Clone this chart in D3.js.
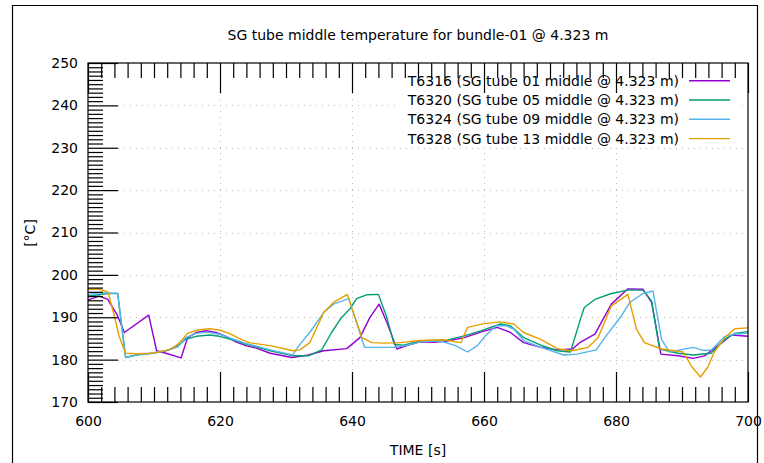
<!DOCTYPE html>
<html><head><meta charset="utf-8">
<script src="https://cdn.jsdelivr.net/npm/d3@7"></script>
<style>body{margin:0;background:#fff}svg{display:block}</style>
</head><body>
<svg id="chart" width="764" height="463"></svg>
<script>
const titleText = "SG tube middle temperature for bundle-01 @ 4.323 m";
const xAxisLabel = "TIME [s]";
const yAxisLabel = "[°C]";
const xTickValues = [600, 620, 640, 660, 680, 700];
const yTickValues = [170, 180, 190, 200, 210, 220, 230, 240, 250];
const seriesNames = [
  "T6316 (SG tube 01 middle @ 4.323 m)",
  "T6320 (SG tube 05 middle @ 4.323 m)",
  "T6324 (SG tube 09 middle @ 4.323 m)",
  "T6328 (SG tube 13 middle @ 4.323 m)"
];
const seriesColors = ["#9400d3", "#009e73", "#56b4e9", "#e69f00"];

const t6316Time = [600,601.7,603,604.5,605.5,609.2,610.4,611.8,614.1,615.1,616.4,617.9,619.4,620.9,622.4,623.9,625.5,627.6,630.9,633.4,635.7,639.2,641.2,642.7,644.1,645.3,646.8,648.3,650.3,652.5,654.4,657,659.5,662,664,666,668.6,671.1,673.4,674.5,676.8,679.3,681.8,684.1,685.4,686.8,689.4,691.7,693.4,695.5,697.5,700];
const t6316Temp = [194.1,195.0,194.2,190.3,186.4,190.5,182.1,181.5,180.4,185.2,186.4,186.8,186.4,185.5,184.2,183.3,182.7,181.5,180.5,181.1,182.1,182.6,185.2,189.9,193.1,188.7,182.5,183.3,184.2,184.1,184.4,185.2,186.5,187.6,186.4,184.0,182.9,182.3,182.5,184.0,186.0,193.1,196.7,196.6,193.5,181.3,180.9,180.3,180.9,183.3,185.8,185.5];

const t6320Time = [600,601,603,604.5,605.7,607.3,609.8,611.8,613.3,614.8,616.4,618.4,619.9,621.9,623.9,625.5,627.6,631.1,633.4,635.4,636.9,638.4,639.7,640.7,642.2,644,645.2,646.4,647.8,650.3,654.4,657,659.5,662.5,664,666,668.6,671.1,673.1,674.6,675.2,676.8,679.3,681.8,684.1,685.4,686.6,689.4,691.7,694.4,696.5,698,700];
const t6320Temp = [195.0,195.2,195.6,195.6,180.5,181.1,181.5,182.1,182.9,184.8,185.5,185.8,185.5,184.7,183.6,183.0,182.1,180.9,180.9,182.3,186.4,189.9,192.0,194.4,195.3,195.4,190.3,183.6,183.4,184.4,184.6,185.6,186.8,188.4,188.0,185.2,183.4,182.1,181.8,189.5,192.3,194.2,195.6,196.4,196.4,193.8,182.5,181.5,181.1,181.5,184.8,186.2,186.6];

const t6324Time = [600,601.7,604.5,605.7,607.3,609.4,611.8,613.6,614.8,616.4,618.1,619.9,621.9,623.9,625.5,627.6,631,632.1,633.6,635.7,637.2,639.5,640.7,641.9,643.7,646.3,648.3,650.3,653.4,655.7,657.5,659,660.2,661.8,663.3,664.5,666.1,668.6,672.1,674.1,677,678.3,680.8,682.1,684.1,685.6,686.9,688.1,691.7,693.2,694.4,696.5,698,700];
const t6324Temp = [195.4,195.8,195.6,180.5,181.1,181.5,182.1,183.0,185.2,186.2,186.5,186.0,184.9,183.8,183.2,182.3,181.1,183.6,186.4,191.1,193.1,194.4,188.7,182.9,182.9,182.9,183.4,184.2,184.4,183.3,181.8,183.3,185.6,188.0,188.0,187.2,184.4,182.9,181.1,181.3,182.3,185.2,190.3,193.5,195.6,196.2,184.8,181.8,182.9,182.2,182.2,185.5,186.0,186.3];

const t6328Time = [600,601.7,603,604,604.7,605.7,607.3,609.8,612.3,613.6,615.1,616.6,618.4,619.9,621.4,622.9,624.4,627.6,631.1,632.1,633.6,635.7,637.2,639.3,640.2,641.5,643,644.8,647.3,650.3,653.9,656.5,657.5,660,662.5,664.5,666,668.6,671.1,673.1,674.2,675.8,677.3,679.3,681.8,683.1,684.3,686.9,690.2,691.4,692.8,693.9,694.9,696.5,698,700];
const t6328Temp = [196.6,196.6,196.0,190.3,185.6,181.5,181.4,181.5,182.3,183.6,186.2,187.0,187.3,187.0,186.2,185.0,184.0,183.3,182.1,182.3,184.0,191.1,193.5,195.4,191.1,185.2,184.0,183.9,184.0,184.5,184.7,184.0,187.6,188.5,188.9,188.4,186.4,184.8,182.6,182.1,182.4,182.9,185.2,192.7,195.4,187.2,184.0,182.5,181.8,178.5,175.9,178.2,181.8,185.2,187.3,187.5];

const seriesTimes = [t6316Time, t6320Time, t6324Time, t6328Time];
const seriesTemps = [t6316Temp, t6320Temp, t6324Temp, t6328Temp];

const FONT = "'DejaVu Sans', sans-serif";
const L = 88, R = 748, T = 63, B = 402;
const svg = d3.select("#chart");

const x = d3.scaleLinear().domain([600, 700]).range([L, R]);
const y = d3.scaleLinear().domain([170, 250]).range([B, T]);

// outer frame
svg.append("path").attr("d", `M12.5,470 V5.5 H757.5 V470`)
  .attr("fill", "none").attr("stroke", "#000").attr("stroke-width", 1.2);

// grid
const grid = svg.append("g").attr("stroke", "#b8b8b8").attr("stroke-width", 1).attr("stroke-dasharray", "1,5");
grid.selectAll(".gx").data(xTickValues.slice(1, -1)).join("line")
  .attr("x1", d => Math.round(x(d)) + 0.5).attr("x2", d => Math.round(x(d)) + 0.5)
  .attr("y1", T).attr("y2", B);
grid.selectAll(".gy").data(yTickValues.slice(1, -1)).join("line")
  .attr("y1", d => Math.round(y(d)) + 0.5).attr("y2", d => Math.round(y(d)) + 0.5)
  .attr("x1", L).attr("x2", R);

// legend background (opaque key)
svg.append("rect").attr("x", 398).attr("y", 70).attr("width", 342).attr("height", 78).attr("fill", "#fff");

// series
const line = d3.line().x(d => x(d[0])).y(d => y(d[1]));
seriesTimes.forEach((ts, i) => {
  const pts = ts.map((t, j) => [t, seriesTemps[i][j]]);
  svg.append("path").datum(pts).attr("d", line)
    .attr("fill", "none").attr("stroke", seriesColors[i]).attr("stroke-width", 1.4)
    .attr("stroke-linejoin", "round");
});

// axes
const xMinor = d3.range(600, 701, 2).filter(v => v % 20 !== 0);
const yMinor = d3.range(170, 251, 1).filter(v => v % 10 !== 0);
function styleAxis(g) {
  g.select(".domain").remove();
  g.selectAll("line").attr("stroke", "#000").attr("stroke-width", 1.2);
  g.selectAll("text").attr("font-family", FONT).attr("font-size", 14).attr("fill", "#000");
}
svg.append("g").attr("transform", `translate(0,${B})`)
  .call(d3.axisBottom(x).tickValues(xTickValues).tickSize(-30).tickPadding(14).tickFormat(d3.format("d")))
  .call(styleAxis);
svg.append("g").attr("transform", `translate(0,${B})`)
  .call(d3.axisBottom(x).tickValues(xMinor).tickSize(-15).tickFormat(""))
  .call(styleAxis);
svg.append("g").attr("transform", `translate(0,${T})`)
  .call(d3.axisTop(x).tickValues(xTickValues).tickSize(-30).tickFormat(""))
  .call(styleAxis);
svg.append("g").attr("transform", `translate(0,${T})`)
  .call(d3.axisTop(x).tickValues(xMinor).tickSize(-15).tickFormat(""))
  .call(styleAxis);
svg.append("g").attr("transform", `translate(${L},0)`)
  .call(d3.axisLeft(y).tickValues(yTickValues).tickSize(-30).tickPadding(10).tickFormat(d3.format("d")))
  .call(styleAxis);
svg.append("g").attr("transform", `translate(${L},0)`)
  .call(d3.axisLeft(y).tickValues(yMinor).tickSize(-15).tickFormat(""))
  .call(styleAxis);

// plot frame
svg.append("rect").attr("x", L).attr("y", T).attr("width", R - L).attr("height", B - T)
  .attr("fill", "none").attr("stroke", "#000").attr("stroke-width", 1.2);

// legend
const lg = svg.append("g");
seriesNames.forEach((name, i) => {
  const cy = 80.7 + i * 19.3;
  lg.append("text").attr("x", 679).attr("y", cy).attr("dy", "0.35em")
    .attr("text-anchor", "end").attr("font-family", FONT).attr("font-size", 14)
    .attr("fill", "#000").text(name);
  lg.append("line").attr("x1", 689).attr("x2", 730).attr("y1", cy).attr("y2", cy)
    .attr("stroke", seriesColors[i]).attr("stroke-width", 1.4);
});

// titles
svg.append("text").attr("x", 418).attr("y", 35).attr("dy", "0.35em").attr("text-anchor", "middle")
  .attr("font-family", FONT).attr("font-size", 14).text(titleText);
svg.append("text").attr("x", 418).attr("y", 450).attr("dy", "0.35em").attr("text-anchor", "middle")
  .attr("font-family", FONT).attr("font-size", 14).text(xAxisLabel);
svg.append("text").attr("transform", "translate(30,233) rotate(-90)").attr("dy", "0.35em")
  .attr("text-anchor", "middle").attr("font-family", FONT).attr("font-size", 14).text(yAxisLabel);
</script>
</body></html>
